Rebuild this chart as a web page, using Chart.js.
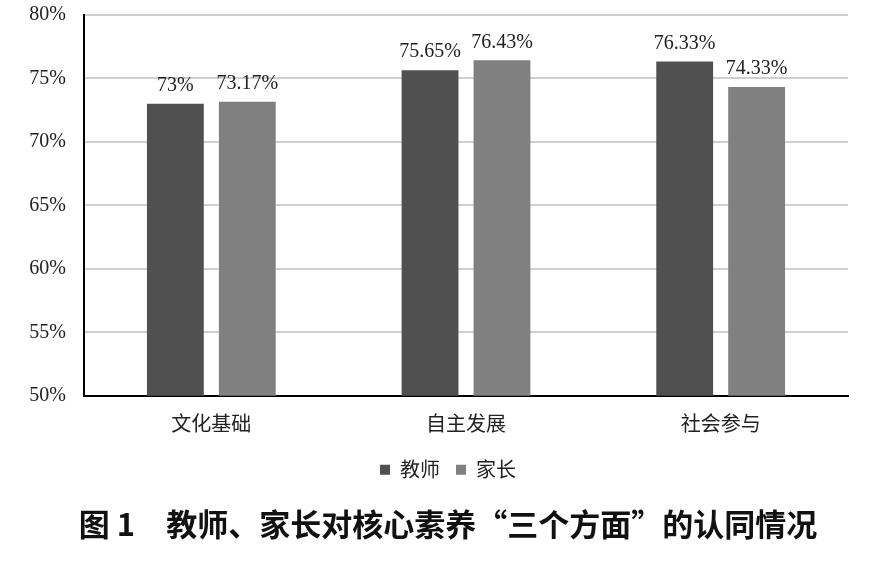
<!DOCTYPE html>
<html>
<head>
<meta charset="utf-8">
<script src="https://cdn.jsdelivr.net/npm/chart.js@4/dist/chart.umd.min.js"></script>
<style>
  html, body { margin: 0; padding: 0; background: #fff; }
  #wrap { width: 876px; height: 565px; }
</style>
</head>
<body>
<div id="wrap"><canvas id="barChart" width="876" height="565"></canvas></div>
<script>
const categories = ['文化基础', '自主发展', '社会参与'];
const teacherValues = [73, 75.65, 76.33];
const parentValues = [73.17, 76.43, 74.33];
const teacherLabels = ['73%', '75.65%', '76.33%'];
const parentLabels = ['73.17%', '76.43%', '74.33%'];
const yTicks = [50, 55, 60, 65, 70, 75, 80];

const chartColors = {
    Teacher: '#505050',
    Parent: '#808080',
    Grid: '#cfcfcf',
    Axis: '#000000'
};

// draws the value text above each bar
const barLabels = {
    id: 'barLabels',
    afterDatasetsDraw(chart) {
        const ctx = chart.ctx;
        ctx.save();
        ctx.font = '20px "Liberation Serif", serif';
        ctx.fillStyle = '#222';
        ctx.textAlign = 'center';
        ctx.textBaseline = 'bottom';
        chart.data.datasets.forEach((ds, i) => {
            chart.getDatasetMeta(i).data.forEach((bar, j) => {
                ctx.fillText(ds.valueLabels[j], bar.x, bar.y - 8);
            });
        });
        ctx.restore();
    }
};

new Chart(document.getElementById('barChart'), {
    type: 'bar',
    data: {
        labels: categories,
        datasets: [{
            label: '教师',
            data: teacherValues,
            valueLabels: teacherLabels,
            backgroundColor: chartColors.Teacher,
            barPercentage: 0.79,
            categoryPercentage: 0.565
        }, {
            label: '家长',
            data: parentValues,
            valueLabels: parentLabels,
            backgroundColor: chartColors.Parent,
            barPercentage: 0.79,
            categoryPercentage: 0.565
        }]
    },
    options: {
        responsive: false,
        animation: false,
        layout: { padding: { left: 24, right: 4, top: 15, bottom: 22 } },
        plugins: {
            legend: {
                position: 'bottom',
                labels: {
                    boxWidth: 10,
                    boxHeight: 10,
                    padding: 16,
                    color: '#222',
                    font: { size: 20, family: '"Noto Sans CJK SC", sans-serif' }
                }
            },
            title: {
                display: true,
                position: 'bottom',
                text: '图 1　教师、家长对核心素养“三个方面”的认同情况',
                color: '#111',
                padding: { top: 16, bottom: 0 },
                font: { size: 31, weight: 'bold', family: '"Noto Sans CJK SC", sans-serif' }
            },
            tooltip: { enabled: false }
        },
        scales: {
            x: {
                grid: { display: false },
                border: { display: true, color: chartColors.Axis, width: 2 },
                ticks: {
                    color: '#222',
                    padding: 8,
                    font: { size: 20, family: '"Noto Sans CJK SC", sans-serif' }
                }
            },
            y: {
                min: 50,
                max: 80,
                afterFit(scale) {
                    scale.width = 60;
                    scale.paddingTop = 0;
                    scale.paddingBottom = 0;
                },
                afterBuildTicks(scale) { scale.ticks = yTicks.map(v => ({ value: v })); },
                grid: { color: chartColors.Grid, lineWidth: 2, drawTicks: false },
                border: { display: true, color: chartColors.Axis, width: 2 },
                ticks: {
                    color: '#222',
                    padding: 18,
                    font: { size: 20, family: '"Liberation Serif", serif', lineHeight: 1 },
                    callback: v => v + '%'
                }
            },
            // empty right-hand strip so the plot ends where the reference does
            spacer: {
                type: 'linear',
                position: 'right',
                display: true,
                afterFit(scale) {
                    scale.width = 24;
                    scale.paddingTop = 0;
                    scale.paddingBottom = 0;
                },
                grid: { display: false },
                border: { display: false },
                ticks: { display: false }
            }
        }
    },
    plugins: [barLabels]
});
</script>
</body>
</html>
